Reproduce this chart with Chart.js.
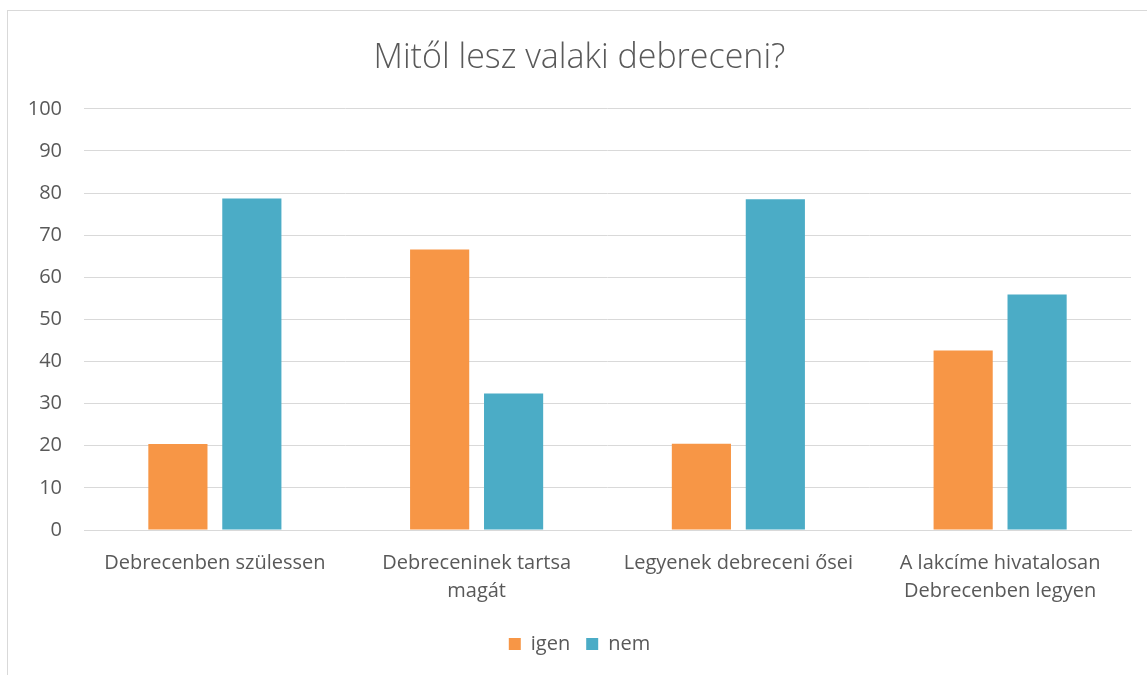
<!DOCTYPE html>
<html>
<head>
<meta charset="utf-8">
<script src="https://cdn.jsdelivr.net/npm/chart.js@4"></script>
<style>
  body { margin: 0; background: #fff; }
  #frame { position: absolute; left: 7px; top: 10px; width: 1150px; height: 680px; border: 1px solid #d9d9d9; box-sizing: border-box; }
  #wrap { position: absolute; left: 0; top: 0; width: 1147px; height: 675px; }
</style>
</head>
<body>
<div id="frame"></div>
<div id="wrap"><canvas id="chart"></canvas></div>
<script>
// adatok
const kategoriak = [
    "Debrecenben szülessen",
    ["Debreceninek tartsa", "magát"],
    "Legyenek debreceni ősei",
    ["A lakcíme hivatalosan", "Debrecenben legyen"]
];
const igen = [20.4, 66.6, 20.5, 42.6];
const nem = [78.7, 32.4, 78.5, 55.9];
const yTicks = [0, 10, 20, 30, 40, 50, 60, 70, 80, 90, 100];

const szurke = "#595959";
const font = "'Open Sans', sans-serif";

const ctx = document.getElementById("chart").getContext("2d");
new Chart(ctx, {
    type: "bar",
    data: {
        labels: kategoriak,
        datasets: [
            { label: "igen", data: igen, backgroundColor: "#F79646", categoryPercentage: 0.565, barPercentage: 0.8 },
            { label: "nem", data: nem, backgroundColor: "#4BACC6", categoryPercentage: 0.565, barPercentage: 0.8 }
        ]
    },
    options: {
        responsive: true,
        maintainAspectRatio: false,
        animation: false,
        layout: { padding: { left: 28, right: 16, top: 38, bottom: 11 } },
        plugins: {
            title: {
                display: true,
                text: "Mitől lesz valaki debreceni?",
                color: szurke,
                font: { family: font, size: 34, weight: "300", lineHeight: 1.2 },
                padding: { top: 0, bottom: 30 }
            },
            legend: {
                position: "bottom",
                labels: {
                    color: szurke,
                    font: { family: font, size: 20 },
                    boxWidth: 12,
                    boxHeight: 12,
                    padding: 16
                }
            },
            tooltip: { enabled: false }
        },
        scales: {
            y: {
                min: 0,
                max: 100,
                afterBuildTicks: s => { s.ticks = yTicks.map(v => ({ value: v })); },
                afterFit: s => { s.width = 56; },
                grid: { color: "#d9d9d9", drawTicks: false },
                border: { display: false },
                ticks: { color: szurke, font: { family: font, size: 20 }, padding: 22 }
            },
            x: {
                afterFit: s => { s.height = 88; },
                grid: { display: false },
                border: { color: "#d9d9d9" },
                ticks: { color: szurke, font: { family: font, size: 20, lineHeight: 1.4 }, padding: 11, maxRotation: 0 }
            }
        }
    }
});
</script>
</body>
</html>
